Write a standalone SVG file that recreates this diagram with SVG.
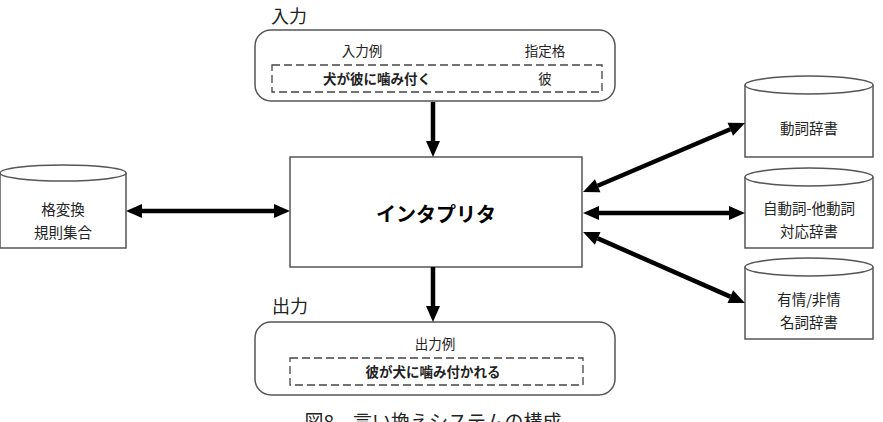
<svg xmlns="http://www.w3.org/2000/svg" width="883" height="422" viewBox="0 0 883 422">
<style>
text{font-family:"Noto Sans CJK JP","Noto Sans",sans-serif;fill:#222}
.box{fill:#fff;stroke:#555;stroke-width:1.5}
.dash{fill:none;stroke:#444;stroke-width:1.3;stroke-dasharray:8 4}
.lbl{font-size:18px}
.sm{font-size:13.5px;text-anchor:middle}
.cyl{font-size:14.5px;text-anchor:middle}
.conn{stroke:#000;stroke-width:4.5;fill:none}
</style>
<defs>
<marker id="ah" markerUnits="userSpaceOnUse" markerWidth="16" markerHeight="14" refX="0" refY="7" orient="auto-start-reverse" overflow="visible">
<path d="M0,0 L16,7 L0,14 z" fill="#000"/>
</marker>
</defs>
<rect width="883" height="422" fill="#fff"/>

<g id="input">
<text class="lbl" x="271" y="23">入力</text>
<rect class="box" x="255" y="30" width="360" height="71" rx="16"/>
<text class="sm" x="362" y="56">入力例</text>
<text class="sm" x="545" y="56">指定格</text>
<rect class="dash" x="272" y="65" width="330" height="27"/>
<text class="sm" x="377" y="84" font-weight="bold">犬が彼に噛み付く</text>
<text class="sm" x="545" y="84">彼</text>
</g>

<g id="interpreter">
<rect class="box" x="290" y="157" width="292" height="110"/>
<text x="436" y="222" font-size="20" font-weight="bold" text-anchor="middle" style="fill:#000">インタプリタ</text>
</g>

<g id="output">
<text class="lbl" x="272" y="313">出力</text>
<rect class="box" x="255" y="322" width="360" height="73" rx="16"/>
<text class="sm" x="435" y="349">出力例</text>
<rect class="dash" x="290" y="358" width="293" height="27"/>
<text class="sm" x="433" y="377" font-weight="bold">彼が犬に噛み付かれる</text>
</g>

<g id="rules">
<path class="box" d="M0,173 L0,248 L126,248 L126,173"/>
<ellipse class="box" cx="63" cy="173" rx="63" ry="8"/>
<text class="cyl" x="63" y="215">格変換</text>
<text class="cyl" x="63" y="238">規則集合</text>
</g>

<g id="verbdict">
<path class="box" d="M745,85 L745,157 L873,157 L873,85"/>
<ellipse class="box" cx="809" cy="85" rx="64" ry="9"/>
<text class="cyl" x="809" y="134">動詞辞書</text>
</g>

<g id="pairdict">
<path class="box" d="M745,177 L745,248 L873,248 L873,177"/>
<ellipse class="box" cx="809" cy="177" rx="64" ry="9"/>
<text class="cyl" x="809" y="214">自動詞-他動詞</text>
<text class="cyl" x="809" y="237">対応辞書</text>
</g>

<g id="noundict">
<path class="box" d="M745,267 L745,339 L873,339 L873,267"/>
<ellipse class="box" cx="809" cy="267" rx="64" ry="9"/>
<text class="cyl" x="809" y="305">有情/非情</text>
<text class="cyl" x="809" y="328">名詞辞書</text>
</g>

<g id="connectors">
<line class="conn" x1="433" y1="102" x2="433" y2="141" marker-end="url(#ah)"/>
<line class="conn" x1="433" y1="267" x2="433" y2="306" marker-end="url(#ah)"/>
<line class="conn" x1="142" y1="211" x2="274" y2="211" marker-start="url(#ah)" marker-end="url(#ah)"/>
<line class="conn" x1="597.7" y1="185.7" x2="730.3" y2="129.3" marker-start="url(#ah)" marker-end="url(#ah)"/>
<line class="conn" x1="599" y1="213" x2="729" y2="213" marker-start="url(#ah)" marker-end="url(#ah)"/>
<line class="conn" x1="597.7" y1="238.4" x2="730.3" y2="296.6" marker-start="url(#ah)" marker-end="url(#ah)"/>
</g>

<text x="433" y="429" font-size="19" text-anchor="middle">図8　言い換えシステムの構成</text>
</svg>
